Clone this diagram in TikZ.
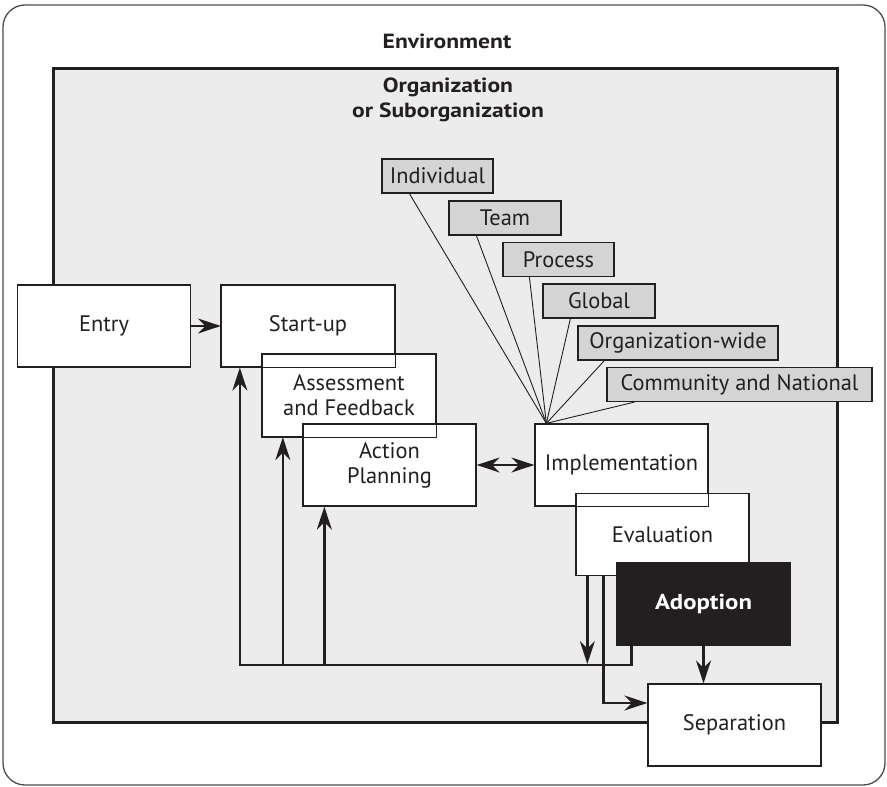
\documentclass[tikz,border=0pt]{standalone}
\usepackage{fontspec}
\setmainfont{PT Sans}
\newfontfamily\headfont[FakeStretch=1.15]{PT Sans}
\usetikzlibrary{arrows.meta,calc}
\definecolor{ink}{HTML}{231F20}
\definecolor{orgfill}{HTML}{ECECEC}
\definecolor{levelfill}{HTML}{D4D4D4}
\begin{document}
\begin{tikzpicture}[x=1pt,y=-1pt,
  stage/.style={draw=ink, line width=1.3pt, fill=white, minimum width=173pt,
    minimum height=82pt, inner sep=0pt, align=center, text=ink,
    font=\fontsize{22.4}{25}\selectfont},
  level/.style={draw=ink, line width=1.2pt, fill=levelfill, minimum height=34pt,
    inner sep=0pt, text=ink, font=\fontsize{22.4}{25}\selectfont},
  heading/.style={text=ink, align=center, font=\fontsize{20.5}{25}\headfont\bfseries},
  flow/.style={draw=ink, line width=2.3pt},
  tip/.tip={Stealth[length=23pt,width=15pt,inset=7.5pt]},
  arr/.style={flow, -tip},
  arrboth/.style={flow, tip-tip},
  fan/.style={draw=ink, line width=0.9pt},
  outline/.style={draw=ink, line width=1.3pt}
]
\useasboundingbox[fill=white] (0,0) rectangle (887,787);

% environment frame
\draw[draw=ink!80, line width=1.3pt, rounded corners=22pt] (3,5) rectangle (885,785);
\node[heading] (env) at (447,41) {Environment};

% organization frame
\draw[draw=ink, line width=3pt, fill=orgfill] (53,68) rectangle (837,722);
\node[heading] (org) at (448,99.5) {Organization\\or Suborganization};

% consulting stages
\node[stage] (entry)  at (104,326)   {Entry};
\node[stage] (start)  at (308,326)   {Start-up};
\node[stage] (assess) at (349,395.5) {Assessment\\and Feedback};
\node[stage] (action) at (389.5,465) {Action\\Planning};
\node[stage] (impl)   at (621.5,465) {Implementation};
\node[stage] (eval)   at (662.5,534.5) {Evaluation};
\node[stage] (sep)    at (734.5,725) {Separation};

% overlapping outlines stay visible
\foreach \n in {start,assess,impl}
  \draw[outline] (\n.south west) rectangle (\n.north east);

\node[stage, fill=ink, text=white, font=\fontsize{21.5}{25}\headfont\bfseries] (adopt) at (703.5,604) {Adoption};

% levels of implementation
\coordinate (hub) at ([xshift=12pt]impl.north west);
\node[level, minimum width=111pt] (ind)  at (437.5,176)   {Individual};
\node[level, minimum width=112pt] (team) at (505,218)     {Team};
\node[level, minimum width=111pt] (proc) at (558.5,259.5) {Process};
\node[level, minimum width=112pt] (glob) at (599,301)     {Global};
\node[level, minimum width=200pt] (orgw) at (678,343)     {Organization-wide};
\node[level, minimum width=265pt] (comm) at (739.5,384.5) {Community and National};
\draw[fan] (hub) -- ([xshift=28pt]ind.south west);
\draw[fan] (hub) -- ([xshift=28pt]team.south west);
\draw[fan] (hub) -- ([xshift=27pt]proc.south west);
\draw[fan] (hub) -- ([xshift=28pt]glob.south west);
\draw[fan] (hub) -- ([xshift=27pt]orgw.south west);
\draw[fan] (hub) -- ([xshift=28pt]comm.south west);

% forward flow
\draw[arr] (entry) -- (start);
\draw[arrboth] (action) -- (impl);
\draw[arr] (adopt.south) -- (adopt.south |- sep.north);

% feedback loop
\coordinate (fb) at (0,665);
\draw[arr] ([xshift=15pt]adopt.south west) -- ([xshift=15pt]adopt.south west |- fb)
  -| ([xshift=19pt]start.south west);
\draw[arr] ([xshift=21pt]assess.south west |- fb) -- ([xshift=21pt]assess.south west);
\draw[arr] ([xshift=22pt]action.south west |- fb) -- ([xshift=22pt]action.south west);
\draw[arr, shorten >=1pt] ([xshift=12pt]eval.south west) -- ([xshift=12pt]eval.south west |- fb);
\draw[arr] ([xshift=28pt]eval.south west) |- ([yshift=22pt]sep.west);
\end{tikzpicture}
\end{document}
